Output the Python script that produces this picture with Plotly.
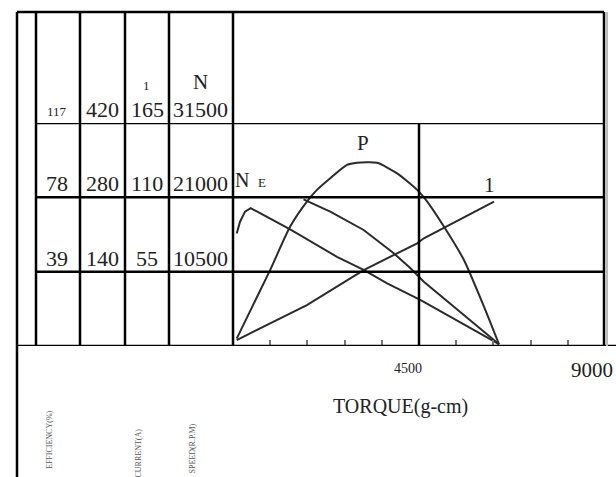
import plotly.graph_objects as go

# ---------------- data ----------------
# table scale values for grid levels 1..3
efficiency_ticks = [39, 78, 117]          # EFFICIENCY (%)
power_ticks = [140, 280, 420]             # output power column
current_ticks = [55, 110, 165]            # CURRENT (A)
speed_ticks = [10500, 21000, 31500]       # SPEED (R.P.M)
torque_max = 9000
torque_labels = ["4500", "9000"]
torque_minor_ticks = [900, 1800, 2700, 3600, 5400, 6300, 7200, 8100]

# curves (torque g-cm -> value)
eff_torque = [90, 170, 291, 429, 1383, 2516, 3161, 3729, 4457, 4617, 6436]
eff_values = [59.0, 65.2, 70.5, 72.3, 61.2, 46.8, 39.9, 32.9, 25.0, 23.2, 1.0]

speed_torque = [1706, 2353, 3161, 3889, 4294, 4617, 6436]
speed_values = [20720, 18970, 16390, 13100, 10980, 9080, 250]

current_torque = [90, 1788, 3161, 4457, 4617, 6315]
current_values = [4.4, 30.3, 56.2, 76.0, 79.7, 106.8]

power_torque = [90, 898, 1383, 1788, 2031, 2353, 2758, 3001, 3486, 3971,
                4457, 4699, 5102, 5587, 6072, 6436]
power_values = [14, 143, 225, 272, 294, 316, 341, 345, 345, 325,
                294, 272, 225, 162, 74, 3]

# ---------------- layout helpers ----------------
W, H = 616, 477
def px(x):
    return x / W
def py(y):
    return 1 - y / H

SERIF = "Liberation Serif"
LINE = dict(color="black", width=2.5)
CURVE = dict(color="#2b2b2b", width=2)

fig = go.Figure()
fig.add_trace(go.Scatter(x=eff_torque, y=eff_values, mode="lines", line=CURVE,
                         yaxis="y3", name="E"))
fig.add_trace(go.Scatter(x=speed_torque, y=speed_values, mode="lines", line=CURVE,
                         yaxis="y", name="N"))
fig.add_trace(go.Scatter(x=current_torque, y=current_values, mode="lines", line=CURVE,
                         yaxis="y2", name="I"))
fig.add_trace(go.Scatter(x=power_torque, y=power_values, mode="lines",
                         line=dict(color="#2b2b2b", width=2, shape="spline", smoothing=0.6),
                         yaxis="y4", name="P"))

shapes = []
# horizontal grid/table lines at each level
for s in speed_ticks:
    shapes.append(dict(type="line", xref="paper", yref="y", x0=px(36), x1=px(604),
                       y0=s, y1=s, line=LINE))
shapes.append(dict(type="line", xref="paper", yref="y", x0=px(17), x1=1.0,
                   y0=0, y1=0, line=LINE))
shapes.append(dict(type="line", xref="paper", yref="paper", x0=px(17), x1=px(604),
                   y0=py(12), y1=py(12), line=LINE))
# vertical table lines
shapes.append(dict(type="line", xref="paper", yref="paper", x0=px(17), x1=px(17),
                   y0=py(12), y1=0, line=LINE))
for xv in [36, 80, 125, 169, 233, 604]:
    shapes.append(dict(type="line", xref="paper", yref="paper", x0=px(xv), x1=px(xv),
                       y0=py(12), y1=py(346), line=LINE))
shapes.append(dict(type="line", xref="paper", yref="paper", x0=px(607), x1=px(607),
                   y0=py(12), y1=py(346), line=dict(color="#bdbdbd", width=2)))
shapes.append(dict(type="line", xref="x", yref="y", x0=torque_max / 2, x1=torque_max / 2,
                   y0=0, y1=speed_ticks[-1], line=LINE))

ann = []
col_x = [57, 102, 147, 200]
columns = [efficiency_ticks, power_ticks, current_ticks, speed_ticks]
for ci, vals in enumerate(columns):
    for ri, v in enumerate(vals):
        size = 13 if (ci == 0 and ri == 2) else 22
        shift = 11 if size == 13 else 13.5
        ann.append(dict(xref="paper", yref="y", x=px(col_x[ci]), y=speed_ticks[ri],
                        text=str(v), showarrow=False, yshift=shift, yanchor="middle",
                        xanchor="center", font=dict(family=SERIF, size=size, color="#222")))

def label(x, y, text, size, color="#222", angle=0, xanchor="center"):
    ann.append(dict(xref="paper", yref="paper", x=px(x), y=py(y), text=text,
                    showarrow=False, xanchor=xanchor, yanchor="middle", textangle=angle,
                    font=dict(family=SERIF, size=size, color=color)))

label(146, 85, "1", 13)
label(200, 82, "N", 21)
label(241.5, 180, "N", 20)
label(261.5, 182.5, "E", 13)
label(363, 143, "P", 21)
label(489.5, 185, "1", 21)
label(408, 368.5, torque_labels[0], 14)
label(615, 370, torque_labels[1], 21, xanchor="right")
label(400.5, 406, "TORQUE(g-cm)", 20)
label(49, 440, "EFFICIENCY(%)", 8, color="#555", angle=-90)
label(137.5, 453, "CURRENT(A)", 8, color="#555", angle=-90)
label(191.5, 449, "SPEED(R.P.M)", 8, color="#555", angle=-90)

ydom = [py(346), py(123)]
hidden = dict(visible=False, domain=ydom, fixedrange=True)
fig.update_layout(
    width=W, height=H, margin=dict(l=0, r=0, t=0, b=0),
    paper_bgcolor="white", plot_bgcolor="rgba(0,0,0,0)", showlegend=False,
    xaxis=dict(domain=[px(233), px(605)], range=[0, torque_max], showgrid=False,
               zeroline=False, showline=False, showticklabels=False, fixedrange=True,
               ticks="inside", tickvals=torque_minor_ticks, ticklen=6, tickwidth=2,
               tickcolor="#777"),
    yaxis=dict(range=[0, speed_ticks[-1]], **hidden),
    yaxis2=dict(range=[0, current_ticks[-1]], overlaying="y", **hidden),
    yaxis3=dict(range=[0, efficiency_ticks[-1]], overlaying="y", **hidden),
    yaxis4=dict(range=[0, power_ticks[-1]], overlaying="y", **hidden),
    shapes=shapes, annotations=ann,
)
fig.write_html("out.html", config={"displayModeBar": False},
               post_script="document.body.style.margin='0';")
